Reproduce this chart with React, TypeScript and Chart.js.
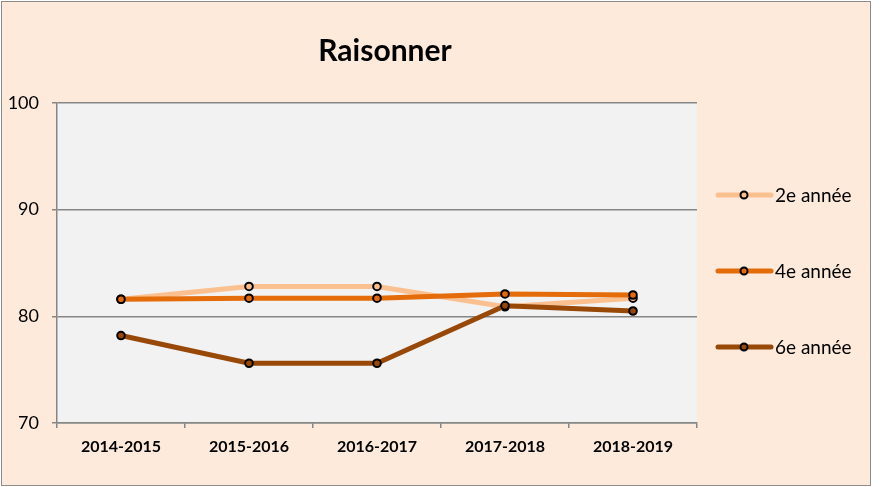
import React, { useEffect, useRef } from "react";
import { Chart, registerables } from "chart.js";

Chart.register(...registerables);

const categories = ["2014-2015", "2015-2016", "2016-2017", "2017-2018", "2018-2019"];
const grade2 = [81.6, 82.8, 82.8, 80.9, 81.7];
const grade4 = [81.6, 81.7, 81.7, 82.1, 82.0];
const grade6 = [78.2, 75.6, 75.6, 81.0, 80.5];
const seriesNames = ["2e année", "4e année", "6e année"];
const seriesColors = ["#FAC090", "#E46C0A", "#984807"];
const titleText = "Raisonner";
const yMin = 70;
const yMax = 100;
const yStep = 10;

const FONT = "Lato, 'Open Sans', sans-serif";

const framePlugin = {
  id: "frame",
  beforeDraw(chart: any) {
    const { ctx, chartArea } = chart;
    ctx.save();
    ctx.fillStyle = "#ffffff";
    ctx.fillRect(0, 0, chart.width, chart.height);
    ctx.fillStyle = "#FDEADA";
    ctx.fillRect(1.5, 1.5, 869, 484);
    ctx.strokeStyle = "#8C8C8C";
    ctx.lineWidth = 1;
    ctx.strokeRect(1.5, 1.5, 869, 484);
    ctx.fillStyle = "#F2F2F2";
    ctx.fillRect(chartArea.left, chartArea.top, chartArea.right - chartArea.left, chartArea.bottom - chartArea.top);
    ctx.restore();
  },
  afterDraw(chart: any) {
    const { ctx } = chart;
    ctx.save();
    ctx.fillStyle = "#000000";
    ctx.font = `bold 30px ${FONT}`;
    ctx.textAlign = "center";
    ctx.textBaseline = "middle";
    ctx.fillText(titleText, 385, 51);
    const ys = [195, 271, 347];
    ctx.font = `19px ${FONT}`;
    ctx.textAlign = "left";
    seriesNames.forEach((name, i) => {
      const y = ys[i];
      ctx.strokeStyle = seriesColors[i];
      ctx.lineWidth = 5;
      ctx.lineCap = "round";
      ctx.beginPath();
      ctx.moveTo(718, y);
      ctx.lineTo(771, y);
      ctx.stroke();
      ctx.beginPath();
      ctx.arc(744, y, 3.5, 0, Math.PI * 2);
      ctx.fillStyle = seriesColors[i];
      ctx.fill();
      ctx.lineWidth = 2;
      ctx.strokeStyle = "#000000";
      ctx.stroke();
      ctx.fillStyle = "#000000";
      ctx.fillText(name, 775, y + 1);
    });
    ctx.restore();
  },
};

export default function App() {
  const ref = useRef<HTMLCanvasElement | null>(null);
  useEffect(() => {
    if (!ref.current) return;
    const data = [grade2, grade4, grade6];
    const chart = new Chart(ref.current, {
      type: "line",
      data: {
        labels: categories,
        datasets: data.map((d, i) => ({
          label: seriesNames[i],
          data: d,
          borderColor: seriesColors[i],
          backgroundColor: seriesColors[i],
          borderWidth: 5,
          pointRadius: 3.8,
          pointBorderWidth: 2,
          pointBorderColor: "#000000",
          pointBackgroundColor: seriesColors[i],
          tension: 0,
          order: 3 - i,
        })),
      },
      options: {
        animation: false,
        responsive: false,
        maintainAspectRatio: false,
        layout: { padding: { left: 0, top: 103, right: 189, bottom: 0 } },
        plugins: {
          legend: { display: false },
          title: { display: false },
          tooltip: { enabled: false },
        },
        scales: {
          x: {
            type: "category",
            offset: true,
            grid: {
              offset: true,
              drawOnChartArea: false,
              drawTicks: true,
              tickLength: 5,
              color: "#868686",
              lineWidth: 1.5,
            },
            border: { display: true, color: "#868686", width: 1.5 },
            ticks: {
              color: "#000000",
              font: { family: FONT, size: 16, weight: "bold" },
              padding: 9,
              maxRotation: 0,
              autoSkip: false,
            },
            afterFit(scale: any) {
              scale.height = 64;
            },
          },
          y: {
            min: yMin,
            max: yMax,
            ticks: {
              stepSize: yStep,
              color: "#000000",
              font: { family: FONT, size: 18 },
              padding: 13,
            },
            grid: {
              color: "#868686",
              lineWidth: 1.5,
              drawTicks: true,
              tickLength: 5,
            },
            border: { display: true, color: "#868686", width: 1.5 },
            afterFit(scale: any) {
              scale.width = 57;
            },
          },
        },
      },
      plugins: [framePlugin],
    } as any);
    return () => chart.destroy();
  }, []);
  return (
    <div style={{ position: "absolute", left: 0, top: 0, width: 886, height: 487 }}>
      <canvas ref={ref} width={886} height={487} style={{ display: "block" }} />
    </div>
  );
}
